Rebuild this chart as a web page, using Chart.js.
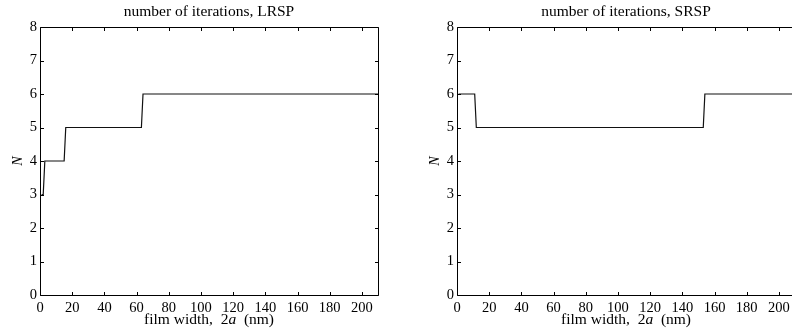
<!DOCTYPE html>
<html>
<head>
<meta charset="utf-8">
<script src="https://cdn.jsdelivr.net/npm/chart.js@4.4.1/dist/chart.umd.min.js"></script>
<style>
  html, body { margin: 0; padding: 0; overflow: hidden; background: #fff; width: 792px; height: 333px; }
  .wrap { position: absolute; top: 0; width: 400px; height: 333px; }
</style>
</head>
<body>
<div class="wrap" style="left:0px"><canvas id="LRSPchart"></canvas></div>
<div class="wrap" style="left:417px"><canvas id="SRSPchart"></canvas></div>
<script>
// film width (nm) where the iteration count changes, and the count N
const widthsLRSP = [1, 2, 3, 15, 16, 63, 64, 210];
const iterLRSP = [3, 3, 4, 4, 5, 5, 6, 6];

const widthsSRSP = [1, 11, 12, 153, 154, 210];
const iterSRSP = [6, 6, 5, 5, 6, 6];

const xTicks = [0, 20, 40, 60, 80, 100, 120, 140, 160, 180, 200];
const yTicks = [0, 1, 2, 3, 4, 5, 6, 7, 8];

const serif = '"Liberation Serif", "Times New Roman", serif';

// box round the plot, inward tick marks, title and x label
const framePlugin = {
    id: 'frame',
    afterDraw(chart, args, opts) {
        const ctx = chart.ctx;
        const a = chart.chartArea;
        const x = chart.scales.x;
        const y = chart.scales.y;
        const L = Math.floor(a.left) + 0.5, R = Math.floor(a.right) + 0.5;
        const T = Math.floor(a.top) + 0.5, B = Math.floor(a.bottom) + 0.5;
        const tl = 3.5;
        ctx.save();
        ctx.strokeStyle = '#000';
        ctx.lineWidth = 1;
        ctx.beginPath();
        ctx.rect(L, T, R - L, B - T);
        x.ticks.forEach(t => {
            const px = Math.round(x.getPixelForValue(t.value)) + 0.5;
            ctx.moveTo(px, B); ctx.lineTo(px, B - tl);
            ctx.moveTo(px, T); ctx.lineTo(px, T + tl);
        });
        y.ticks.forEach(t => {
            const py = Math.round(y.getPixelForValue(t.value)) + 0.5;
            ctx.moveTo(L, py); ctx.lineTo(L + tl, py);
            ctx.moveTo(R, py); ctx.lineTo(R - tl, py);
        });
        ctx.stroke();

        const cx = (a.left + a.right) / 2;
        ctx.fillStyle = '#000';
        ctx.textBaseline = 'alphabetic';
        ctx.textAlign = 'center';
        ctx.font = '15.5px ' + serif;
        ctx.fillText(opts.title, cx, 16);

        // x label has an italic "a"
        const parts = [
            {t: 'film width,  2', f: '15.5px ' + serif},
            {t: 'a', f: 'italic 15.5px ' + serif},
            {t: '  (nm)', f: '15.5px ' + serif}
        ];
        let total = 0;
        parts.forEach(p => { ctx.font = p.f; p.w = ctx.measureText(p.t).width; total += p.w; });
        let px = cx - total / 2;
        ctx.textAlign = 'left';
        parts.forEach(p => { ctx.font = p.f; ctx.fillText(p.t, px, 324); px += p.w; });
        ctx.restore();
    }
};

function makeChart(id, widths, iters, title) {
    const ctx = document.getElementById(id).getContext('2d');
    return new Chart(ctx, {
        type: 'line',
        data: {
            datasets: [{
                label: title,
                data: widths.map((w, i) => ({x: w, y: iters[i]})),
                borderColor: '#111',
                borderWidth: 1.2,
                pointRadius: 0,
                tension: 0,
                fill: false
            }]
        },
        options: {
            responsive: true,
            maintainAspectRatio: false,
            animation: false,
            layout: {
                padding: {top: 27, right: 22, left: 0, bottom: 0}
            },
            plugins: {
                legend: {display: false},
                tooltip: {enabled: false},
                frame: {title: title}
            },
            scales: {
                x: {
                    type: 'linear',
                    min: 0,
                    max: 210,
                    afterBuildTicks: s => { s.ticks = xTicks.map(v => ({value: v})); },
                    afterFit: s => { s.height = 38; },
                    grid: {display: false, drawTicks: false},
                    border: {display: false},
                    ticks: {
                        autoSkip: false,
                        maxRotation: 0,
                        padding: 4,
                        color: '#000',
                        font: {family: serif, size: 14.5}
                    }
                },
                y: {
                    type: 'linear',
                    min: 0,
                    max: 8,
                    afterBuildTicks: s => { s.ticks = yTicks.map(v => ({value: v})); },
                    afterFit: s => { s.width = 40; },
                    grid: {display: false, drawTicks: false},
                    border: {display: false},
                    title: {
                        display: true,
                        text: 'N',
                        color: '#000',
                        font: {family: serif, size: 14, style: 'italic'},
                        padding: {top: 10, bottom: 0}
                    },
                    ticks: {
                        padding: 3,
                        color: '#000',
                        font: {family: serif, size: 14.5}
                    }
                }
            }
        },
        plugins: [framePlugin]
    });
}

makeChart('LRSPchart', widthsLRSP, iterLRSP, 'number of iterations, LRSP');
makeChart('SRSPchart', widthsSRSP, iterSRSP, 'number of iterations, SRSP');
</script>
</body>
</html>
